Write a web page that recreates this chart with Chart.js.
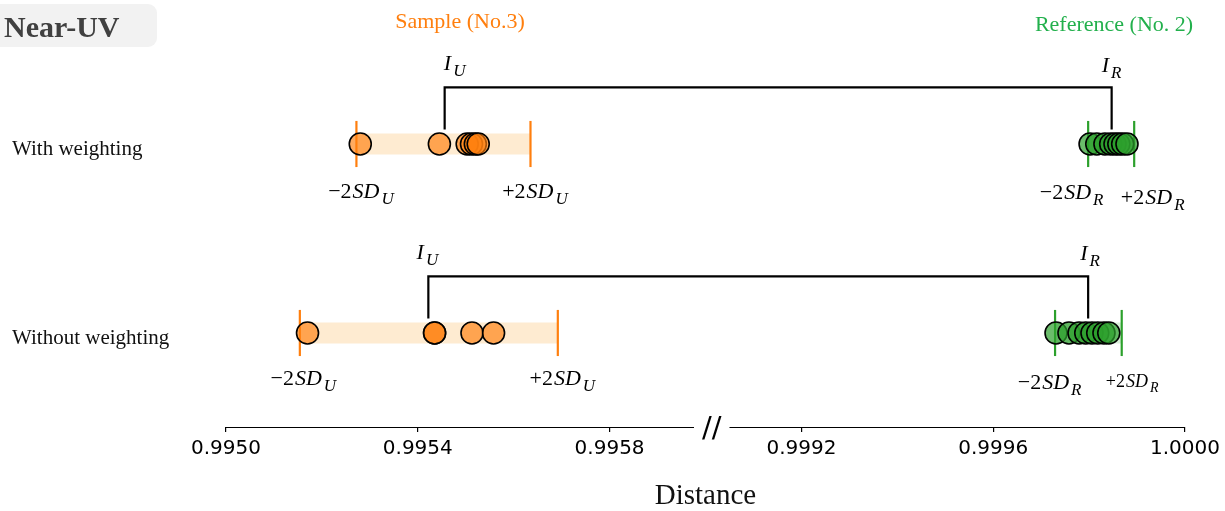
<!DOCTYPE html>
<html><head><meta charset="utf-8">
<script src="https://cdn.jsdelivr.net/npm/chart.js@4.4.0/dist/chart.umd.min.js"></script>
<style>html,body{margin:0;padding:0;background:#fff;}#wrap{width:1225px;height:511px;position:relative}</style>
</head><body><div id="wrap"><canvas id="c" width="1225" height="511"></canvas></div>
<script>
// ---------- data (Distance values) ----------
const rowNames = ['With weighting', 'Without weighting'];
const sampleWith = [0.99528, 0.995445, 0.995503, 0.995512, 0.99552, 0.995526];
const sampleWithout = [0.99517, 0.995435, 0.995435, 0.995513, 0.995558];
const refWith = [0.999802, 0.999816, 0.999833, 0.999845, 0.999854, 0.999862, 0.99987, 0.999879];
const refWithout = [0.999731, 0.999758, 0.999779, 0.999793, 0.999806, 0.999818, 0.999831, 0.999841];
const sampleLow2SD = [0.995272, 0.995154];
const sampleHigh2SD = [0.995635, 0.995692];
const refLow2SD = [0.999798, 0.999729];
const refHigh2SD = [0.999894, 0.999868];
const iU = [0.995456, 0.995422];
const iR = [0.999847, 0.999798];
const tickValues = [0.9950, 0.9954, 0.9958, 0.9992, 0.9996, 1.0000];
const tickLabels = ['0.9950', '0.9954', '0.9958', '0.9992', '0.9996', '1.0000'];
const leftSegment = [0.9950, 0.995976];
const rightSegment = [0.99905, 1.0000];

// ---------- broken-axis transform ----------
function toU(v) { return v < 0.998 ? (v - 0.995) * 1e4 : (v - 0.9992) * 1e4 + 12; }
const rowY = [1, 0];
const ORANGE = '#ff7f0e', GREEN = '#2ca02c';
const BR_TOP = 0.3, BR_BOT = 0.077, SD_H = 0.122;

const pts = (arr, r) => arr.map(v => ({ x: toU(v), y: rowY[r] }));
const datasets = [];
[[sampleWith, refWith], [sampleWithout, refWithout]].forEach((pair, r) => {
  datasets.push({ data: pts(pair[0], r), backgroundColor: 'rgba(255,127,14,0.66)', borderColor: '#000', borderWidth: 1.6, pointRadius: 11, order: 0 });
  datasets.push({ data: pts(pair[1], r), backgroundColor: 'rgba(44,160,44,0.7)', borderColor: '#000', borderWidth: 1.6, pointRadius: 11, order: 0 });
  datasets.push({ data: [{ x: toU(iU[r]), y: rowY[r] + BR_BOT }, { x: toU(iU[r]), y: rowY[r] + BR_TOP }, { x: toU(iR[r]), y: rowY[r] + BR_TOP }, { x: toU(iR[r]), y: rowY[r] + BR_BOT }],
    showLine: true, borderColor: '#000', borderWidth: 2.2, pointRadius: 0, borderJoinStyle: 'miter', order: 1 });
  [[sampleLow2SD, ORANGE], [sampleHigh2SD, ORANGE], [refLow2SD, GREEN], [refHigh2SD, GREEN]].forEach(([arr, col]) => {
    datasets.push({ data: [{ x: toU(arr[r]), y: rowY[r] - SD_H }, { x: toU(arr[r]), y: rowY[r] + SD_H }], showLine: true, borderColor: col, borderWidth: 2.2, pointRadius: 0, order: 2 });
  });
  datasets.push({ data: [{ x: toU(sampleLow2SD[r]), y: rowY[r] }, { x: toU(sampleHigh2SD[r]), y: rowY[r] }], showLine: true, borderColor: '#feebd1', borderWidth: 21, borderCapStyle: 'butt', pointRadius: 0, order: 3 });
  datasets.push({ data: [{ x: toU(refLow2SD[r]), y: rowY[r] }, { x: toU(refHigh2SD[r]), y: rowY[r] }], showLine: true, borderColor: '#d9efd9', borderWidth: 21, borderCapStyle: 'butt', pointRadius: 0, order: 3 });
});

// label specs: [value, row, pre, italic, sub, dx, dy(px from row), size]
const mathLabels = [
  [sampleLow2SD[0], 0, '\u22122', 'SD', 'U', 4, 47, 22],
  [sampleHigh2SD[0], 0, '+2', 'SD', 'U', 4, 47, 22],
  [refLow2SD[0], 0, '\u22122', 'SD', 'R', -17, 48, 22],
  [refHigh2SD[0], 0, '+2', 'SD', 'R', 18, 53, 22],
  [iU[0], 0, '', 'I', 'U', 10, -81, 22],
  [iR[0], 0, '', 'I', 'R', 0, -79, 22],
  [sampleLow2SD[1], 1, '\u22122', 'SD', 'U', 3, 45, 22],
  [sampleHigh2SD[1], 1, '+2', 'SD', 'U', 4, 45, 22],
  [refLow2SD[1], 1, '\u22122', 'SD', 'R', -6, 49, 22],
  [refHigh2SD[1], 1, '+2', 'SD', 'R', 10, 48, 18],
  [iU[1], 1, '', 'I', 'U', -1, -81, 22],
  [iR[1], 1, '', 'I', 'R', 2, -80, 22]
];

function drawMath(ctx, cx, cy, pre, it, sub, size) {
  const f1 = size + 'px "Liberation Serif"', f2 = 'italic ' + size + 'px "Liberation Serif"';
  const ss = Math.round(size * 0.75), f3 = 'italic ' + ss + 'px "Liberation Serif"';
  ctx.font = f1; const w1 = pre ? ctx.measureText(pre).width : 0;
  ctx.font = f2; const w2 = ctx.measureText(it).width;
  ctx.font = f3; const w3 = ctx.measureText(sub).width;
  const gap = 2;
  let x = cx - (w1 + w2 + gap + w3) / 2;
  const base = cy + size * 0.33;
  ctx.fillStyle = '#000'; ctx.textAlign = 'left'; ctx.textBaseline = 'alphabetic';
  if (pre) { ctx.font = f1; ctx.fillText(pre, x, base); x += w1 + 1; }
  ctx.font = f2; ctx.fillText(it, x, base); x += w2 + gap;
  ctx.font = f3; ctx.fillText(sub, x, base + size * 0.28);
}

const annot = {
  id: 'annot',
  afterDraw(chart) {
    const { ctx, scales: { x, y } } = chart;
    ctx.save();
    // axis segments with break
    const ay = chart.chartArea.bottom;
    ctx.strokeStyle = '#000'; ctx.lineWidth = 1.2;
    [leftSegment, rightSegment].forEach(s => {
      ctx.beginPath();
      ctx.moveTo(x.getPixelForValue(toU(s[0])), ay + 0.5);
      ctx.lineTo(x.getPixelForValue(toU(s[1])), ay + 0.5);
      ctx.stroke();
    });
    const bx = (x.getPixelForValue(toU(leftSegment[1])) + x.getPixelForValue(toU(rightSegment[0]))) / 2;
    ctx.fillStyle = '#000'; ctx.font = '29px "DejaVu Sans"'; ctx.textAlign = 'center'; ctx.textBaseline = 'middle';
    ctx.fillText('//', bx, ay + 2);
    // row labels
    ctx.font = '21px "Liberation Serif"'; ctx.textAlign = 'left'; ctx.fillStyle = '#111';
    rowNames.forEach((n, r) => ctx.fillText(n, 12, y.getPixelForValue(rowY[r]) + 5));
    // math labels
    mathLabels.forEach(([v, r, pre, it, sub, dx, dy, sz]) => {
      drawMath(ctx, x.getPixelForValue(toU(v)) + dx, y.getPixelForValue(rowY[r]) + dy, pre, it, sub, sz);
    });
    // group titles
    ctx.textAlign = 'center'; ctx.textBaseline = 'middle'; ctx.font = '22px "Liberation Serif"';
    ctx.fillStyle = ORANGE; ctx.fillText('Sample (No.3)', 460, 22);
    ctx.fillStyle = '#22b04c'; ctx.fillText('Reference (No. 2)', 1114, 25);
    // panel tag
    ctx.fillStyle = '#f2f2f2';
    ctx.beginPath(); ctx.roundRect(-10, 4, 167, 43, 9); ctx.fill();
    ctx.fillStyle = '#404040'; ctx.font = 'bold 30px "Liberation Serif"'; ctx.textAlign = 'left'; ctx.textBaseline = 'alphabetic';
    ctx.fillText('Near-UV', 4, 37);
    ctx.restore();
  }
};

new Chart(document.getElementById('c'), {
  type: 'scatter',
  data: { datasets },
  options: {
    responsive: false, animation: false, devicePixelRatio: 1,
    layout: { autoPadding: false, padding: { left: 226, right: 39, top: 0, bottom: 0 } },
    plugins: { legend: { display: false }, tooltip: { enabled: false } },
    elements: { line: { tension: 0 } },
    scales: {
      x: {
        type: 'linear', min: 0, max: 20,
        afterBuildTicks: s => { s.ticks = tickValues.map(v => ({ value: toU(v) })); },
        afterFit: s => { s.height = 84; },
        ticks: { autoSkip: false, maxRotation: 0, padding: 5, color: '#000', font: { family: 'DejaVu Sans', size: 20 },
          callback: (val, i) => tickLabels[i] },
        grid: { drawOnChartArea: false, drawTicks: true, tickLength: 5, color: '#000', lineWidth: 1.2 },
        border: { display: false },
        title: { display: true, text: 'Distance', color: '#111', font: { family: 'Liberation Serif', size: 29, lineHeight: 1 }, padding: { top: 0, bottom: 0 } }
      },
      y: { type: 'linear', display: false, min: -0.4974, max: 1.7619 }
    }
  },
  plugins: [annot]
});
</script></body></html>
